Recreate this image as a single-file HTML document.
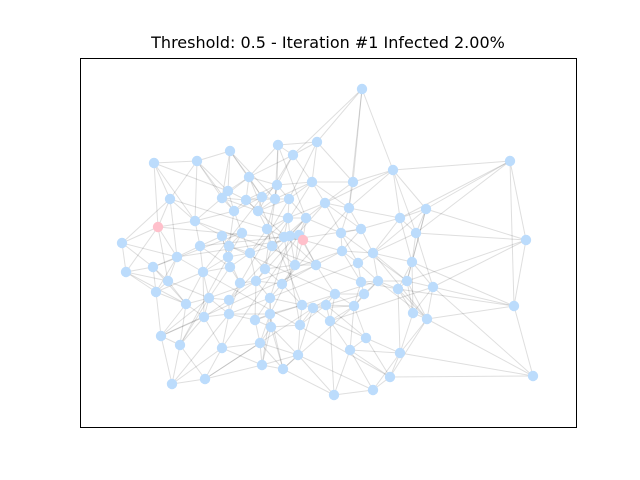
<!DOCTYPE html>
<html><head><meta charset="utf-8"><style>
html,body{margin:0;padding:0;background:#fff;}
svg{display:block;}
</style></head><body>
<svg id="chart" width="640" height="480" viewBox="0 0 640 480" xmlns="http://www.w3.org/2000/svg">
<rect x="0" y="0" width="640" height="480" fill="#fff"/>
<text x="328" y="48" text-anchor="middle" font-family="DejaVu Sans, sans-serif" font-size="16" fill="#000">Threshold: 0.5 - Iteration #1 Infected 2.00%</text>
<g id="edges"></g>
<g id="nodes"></g>
<rect x="80.5" y="58.5" width="496" height="369" fill="none" stroke="#000" stroke-width="1"/>
</svg>
<script>
const nodeX = [362,510,154,197,230,278,317,293,393,249,312,353,277,170,228,222,246,262,275,289,325,349,234,258,306,288,195,400,426,158,267,242,222,299,341,361,416,303,122,200,229,272,284,290,526,342,373,177,250,228,316,295,265,358,412,153,126,203,230,282,361,378,407,433,168,240,256,335,364,398,156,209,229,270,302,313,326,354,186,514,204,229,255,270,330,413,427,271,300,161,366,180,222,260,350,298,400,262,283,172,205,390,373,334,533];
const nodeY = [89,161,163,161,151,145,142,155,170,177,182,182,185,199,191,198,200,197,199,199,203,208,211,211,218,218,221,218,209,227,229,233,236,235,233,229,233,240,243,246,246,246,237,236,240,251,253,257,253,257,265,265,269,263,262,267,272,272,267,284,282,281,281,287,281,283,281,294,294,289,292,298,300,298,305,308,305,306,304,306,317,314,320,314,321,313,319,327,325,336,338,345,348,343,350,355,353,365,369,384,379,377,390,395,376];
const infected = [29,37];
const extraEdges = [[0,8],[0,21],[1,27],[44,36],[79,69],[104,86],[38,29],[29,37],[5,24],[6,11],[8,36],[13,30],[3,22],[4,18],[12,52],[21,59],[26,60],[35,47],[40,67],[45,71],[53,81],[63,84],[55,31],[100,75],[101,57],[94,96],[98,77],[92,33],[89,50],[86,46],[28,46],[61,82],[74,9],[16,50],[20,66],[19,65],[42,88],[24,72],[43,73],[10,41],[2,14],[56,29],[62,34],[7,23],[25,48],[17,57],[83,51],[85,54],[91,49],[97,87],[39,42]];
const ns="http://www.w3.org/2000/svg";
const eg=document.getElementById('edges'), ng=document.getElementById('nodes');
const n=nodeX.length, seen=new Set(), edges=[];
function add(a,b){if(a===b||a>=n||b>=n)return;const k=a<b?a+'-'+b:b+'-'+a;if(seen.has(k))return;seen.add(k);edges.push([a,b]);}
for(let i=0;i<n;i++){
  const d=[];for(let j=0;j<n;j++)if(j!==i)d.push([Math.hypot(nodeX[i]-nodeX[j],nodeY[i]-nodeY[j]),j]);
  d.sort((a,b)=>a[0]-b[0]);
  for(let k=0;k<4;k++)add(i,d[k][1]);
  add(i,d[6][1]);
}
extraEdges.forEach(e=>add(e[0],e[1]));
edges.forEach(e=>{
  const l=document.createElementNS(ns,'line');
  l.setAttribute('x1',nodeX[e[0]]);l.setAttribute('y1',nodeY[e[0]]);
  l.setAttribute('x2',nodeX[e[1]]);l.setAttribute('y2',nodeY[e[1]]);
  l.setAttribute('stroke','#000');l.setAttribute('stroke-opacity','0.13');l.setAttribute('stroke-width','1');
  
  
  eg.appendChild(l);
});
for(let i=0;i<n;i++){
  const c=document.createElementNS(ns,'circle');
  c.setAttribute('cx',nodeX[i]);c.setAttribute('cy',nodeY[i]);c.setAttribute('r','5.2');
  c.setAttribute('fill',infected.includes(i)?'#ffc0cb':'#bcdcfc');
  
  
  ng.appendChild(c);
}
</script>
</body></html>
